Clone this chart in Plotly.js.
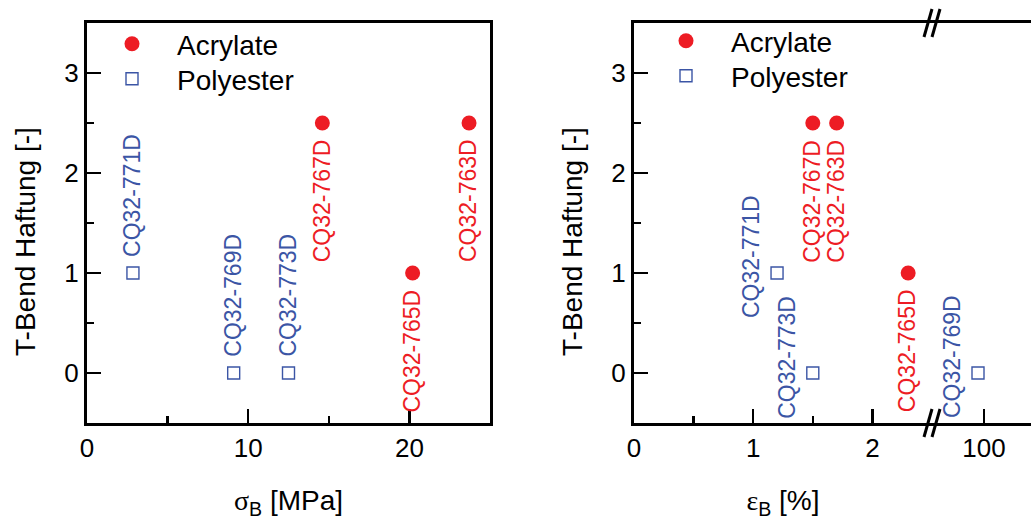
<!DOCTYPE html>
<html>
<head>
<meta charset="utf-8">
<script src="https://cdn.plot.ly/plotly-3.0.1.min.js"></script>
<style>
  html, body { margin: 0; padding: 0; background: #ffffff; overflow: hidden; }
  #chart { width: 1031px; height: 520px; }
</style>
</head>
<body>
<div id="chart"></div>
<script>
// Coating samples: T-bend adhesion against tensile strength and elongation at break
const acrylateNames  = ['CQ32-767D', 'CQ32-765D', 'CQ32-763D'];
const acrylateSigma  = [14.6, 20.2, 23.7];     // MPa
const acrylateEps    = [1.5, 2.3, 1.7];        // %
const acrylateTBend  = [2.5, 1, 2.5];

const polyesterNames = ['CQ32-771D', 'CQ32-769D', 'CQ32-773D'];
const polyesterSigma = [2.85, 9.1, 12.5];      // MPa
const polyesterEps   = [1.2, 99, 1.5];         // %
const polyesterTBend = [1, 0, 0];

const sigmaTicks = [0, 10, 20];
const epsTicksLow = [0, 1, 2];
const epsTicksHigh = [100];
const tbendTicks = [0, 1, 2, 3];

// where the elongation axis is broken
const EPS_BREAK = 2.5;

const W = 1031, H = 520;
const px = v => v / W;
const py = v => 1 - v / H;

const RED = '#ed1c24';
const BLUE = '#3b55a5';
const FONT = 'Liberation Sans, Arial, sans-serif';

// label offsets (pixels) relative to each marker
const sigmaLabelShift = {
  'CQ32-767D': [0, -78], 'CQ32-765D': [-1, -78], 'CQ32-763D': [-1, -78],
  'CQ32-771D': [-1, 78], 'CQ32-769D': [-1, 78], 'CQ32-773D': [-1, 78]
};
const epsLabelShift = {
  'CQ32-767D': [-1, -78], 'CQ32-763D': [-1, -78], 'CQ32-765D': [-1, -78],
  'CQ32-771D': [-26, 16], 'CQ32-773D': [-26, 16], 'CQ32-769D': [-26, 16]
};

const circleMarker = { symbol: 'circle', size: 15, color: RED, line: { width: 0 } };
const squareMarker = { symbol: 'square-open', size: 12, color: BLUE, line: { width: 1.4, color: BLUE } };

function split(xs, ys, names, test) {
  const o = { x: [], y: [], n: [] };
  xs.forEach((v, i) => { if (test(v)) { o.x.push(v); o.y.push(ys[i]); o.n.push(names[i]); } });
  return o;
}

const epsPolyLow = split(polyesterEps, polyesterTBend, polyesterNames, v => v <= EPS_BREAK);
const epsPolyHigh = split(polyesterEps, polyesterTBend, polyesterNames, v => v > EPS_BREAK);
const epsAcrLow = split(acrylateEps, acrylateTBend, acrylateNames, v => v <= EPS_BREAK);

const traces = [
  { type: 'scatter', mode: 'markers', name: 'Acrylate', x: acrylateSigma, y: acrylateTBend,
    xaxis: 'x', yaxis: 'y', marker: circleMarker, legend: 'legend', cliponaxis: false },
  { type: 'scatter', mode: 'markers', name: 'Polyester', x: polyesterSigma, y: polyesterTBend,
    xaxis: 'x', yaxis: 'y', marker: squareMarker, legend: 'legend3', cliponaxis: false },
  { type: 'scatter', mode: 'markers', name: 'Acrylate', x: epsAcrLow.x, y: epsAcrLow.y,
    xaxis: 'x2', yaxis: 'y2', marker: circleMarker, legend: 'legend2', cliponaxis: false },
  { type: 'scatter', mode: 'markers', name: 'Polyester', x: epsPolyLow.x, y: epsPolyLow.y,
    xaxis: 'x2', yaxis: 'y2', marker: squareMarker, legend: 'legend4', legendgroup: 'pe2', cliponaxis: false },
  { type: 'scatter', mode: 'markers', name: 'Polyester', x: epsPolyHigh.x, y: epsPolyHigh.y,
    xaxis: 'x3', yaxis: 'y2', marker: squareMarker, legend: 'legend4', legendgroup: 'pe2',
    showlegend: false, cliponaxis: false }
];

const annotations = [];
function addLabels(xs, ys, names, color, xa, ya, shifts) {
  xs.forEach((v, i) => {
    const s = shifts[names[i]];
    annotations.push({
      x: v, y: ys[i], xref: xa, yref: ya, text: names[i], showarrow: false,
      textangle: -90, xanchor: 'center', yanchor: 'middle',
      xshift: s[0], yshift: s[1],
      font: { family: FONT, size: 23, color: color }
    });
  });
}
addLabels(acrylateSigma, acrylateTBend, acrylateNames, RED, 'x', 'y', sigmaLabelShift);
addLabels(polyesterSigma, polyesterTBend, polyesterNames, BLUE, 'x', 'y', sigmaLabelShift);
addLabels(epsAcrLow.x, epsAcrLow.y, epsAcrLow.n, RED, 'x2', 'y2', epsLabelShift);
addLabels(epsPolyLow.x, epsPolyLow.y, epsPolyLow.n, BLUE, 'x2', 'y2', epsLabelShift);
addLabels(epsPolyHigh.x, epsPolyHigh.y, epsPolyHigh.n, BLUE, 'x3', 'y2', epsLabelShift);

// y-axis titles, set a little below the panel centre
[25, 572].forEach(xPix => {
  annotations.push({
    x: px(xPix), y: py(242), xref: 'paper', yref: 'paper', showarrow: false,
    text: 'T-Bend Haftung [-]', textangle: -90, xanchor: 'center', yanchor: 'middle',
    font: { family: FONT, size: 28, color: '#000' }
  });
});

// "//" marks on the broken elongation axis
const shapes = [];
[23, 423].forEach(yLine => {
  [-4, 4].forEach(dx => {
    shapes.push({
      type: 'line', xref: 'paper', yref: 'paper', layer: 'above',
      x0: px(932 + dx - 4), y0: py(yLine + 14), x1: px(932 + dx + 4), y1: py(yLine - 14),
      line: { color: '#000', width: 3 }
    });
  });
});

const axisCommon = {
  showgrid: false, zeroline: false, showline: true, linecolor: '#000', linewidth: 3,
  ticks: 'inside', ticklen: 14, tickwidth: 2.5, tickcolor: '#000',
  tickfont: { family: FONT, size: 26, color: '#000' }, fixedrange: true
};

const yDomain = [py(423), py(23)];

function legendAt(xPix, yPix) {
  return {
    x: px(xPix), y: py(yPix), xanchor: 'left', yanchor: 'top',
    bgcolor: 'rgba(0,0,0,0)', borderwidth: 0, itemwidth: 80,
    font: { family: FONT, size: 28, color: '#000' }, tracegroupgap: 0
  };
}

const layout = {
  width: W, height: H,
  margin: { l: 0, r: 0, t: 0, b: 0, pad: 0 },
  paper_bgcolor: '#fff', plot_bgcolor: 'rgba(0,0,0,0)',
  font: { family: FONT, color: '#000' },
  showlegend: true,
  xaxis: Object.assign({}, axisCommon, {
    domain: [px(87), px(490)], range: [0, 25], anchor: 'y', mirror: true,
    tickmode: 'array', tickvals: sigmaTicks,
    minor: { tickmode: 'array', tickvals: [5, 15], ticks: 'inside', ticklen: 7, tickwidth: 2.5, tickcolor: '#000' },
    title: { text: '<span style="font-family:Liberation Serif">σ</span><sub>B</sub> [MPa]',
             font: { family: FONT, size: 28, color: '#000' }, standoff: 30 }
  }),
  yaxis: Object.assign({}, axisCommon, {
    domain: yDomain, range: [-0.5, 3.5], anchor: 'x', mirror: true,
    tickmode: 'array', tickvals: tbendTicks,
    minor: { tickmode: 'array', tickvals: [0.5, 1.5, 2.5], ticks: 'inside', ticklen: 7, tickwidth: 2.5, tickcolor: '#000' }
  }),
  xaxis2: Object.assign({}, axisCommon, {
    domain: [px(634), px(932)], range: [0, EPS_BREAK], anchor: 'y2', mirror: true,
    tickmode: 'array', tickvals: epsTicksLow,
    minor: { tickmode: 'array', tickvals: [0.5, 1.5], ticks: 'inside', ticklen: 7, tickwidth: 2.5, tickcolor: '#000' },
    title: { text: '<span style="font-family:Liberation Serif">ε</span><sub>B</sub> [%]',
             font: { family: FONT, size: 28, color: '#000' }, standoff: 30 }
  }),
  xaxis3: Object.assign({}, axisCommon, {
    domain: [px(932), 1], range: [100 - 52 / 6, 100 + 47 / 6], anchor: 'y2', mirror: true,
    tickmode: 'array', tickvals: epsTicksHigh
  }),
  yaxis2: Object.assign({}, axisCommon, {
    domain: yDomain, range: [-0.5, 3.5], anchor: 'x2', mirror: false,
    tickmode: 'array', tickvals: tbendTicks,
    minor: { tickmode: 'array', tickvals: [0.5, 1.5, 2.5], ticks: 'inside', ticklen: 7, tickwidth: 2.5, tickcolor: '#000' }
  }),
  legend: legendAt(87, 19),
  legend3: legendAt(87, 54),
  legend2: legendAt(641, 16),
  legend4: legendAt(641, 51),
  annotations: annotations,
  shapes: shapes
};

Plotly.newPlot('chart', traces, layout, { displayModeBar: false, staticPlot: true });
</script>
</body>
</html>
